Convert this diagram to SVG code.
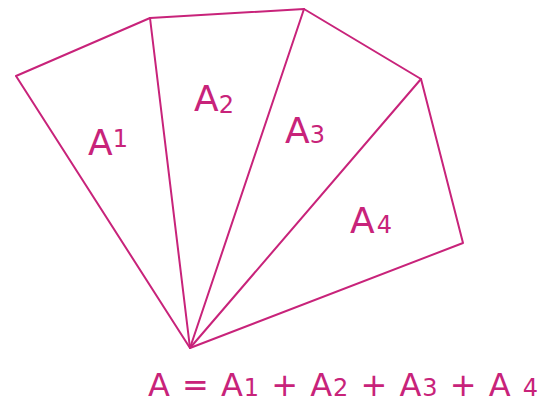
<svg xmlns="http://www.w3.org/2000/svg" width="552" height="407" viewBox="0 0 552 407">
<style>
.ln{stroke:#c8237a;stroke-width:2;fill:none;stroke-linejoin:round;stroke-linecap:round}
.t{font-family:"DejaVu Sans",sans-serif;fill:#c8237a;font-size:36px}
.e{font-size:32px}
.s{font-size:24px}
</style>
<rect width="552" height="407" fill="#fff"/>
<g id="figure">
<polyline class="ln" points="16,76 150,18 304,9 421,79 463,243 190,348 16,76"/>
</g>
<g id="connectors">
<line class="ln" x1="190" y1="348" x2="150" y2="18"/>
<line class="ln" x1="190" y1="348" x2="304" y2="9"/>
<line class="ln" x1="190" y1="348" x2="421" y2="79"/>
</g>
<g id="labels">
<text class="t" x="88" y="155">A<tspan class="s" dy="-8">1</tspan></text>
<text class="t" x="194" y="111">A<tspan class="s" dy="2">2</tspan></text>
<text class="t" x="285" y="143">A<tspan class="s">3</tspan></text>
<text class="t" x="350" y="233">A<tspan class="s" dx="2">4</tspan></text>
<text class="t e" x="148" y="396" textLength="390" lengthAdjust="spacing">A = A<tspan class="s">1</tspan> + A<tspan class="s">2</tspan> + A<tspan class="s">3</tspan> + A <tspan class="s">4</tspan></text>
</g>
</svg>
